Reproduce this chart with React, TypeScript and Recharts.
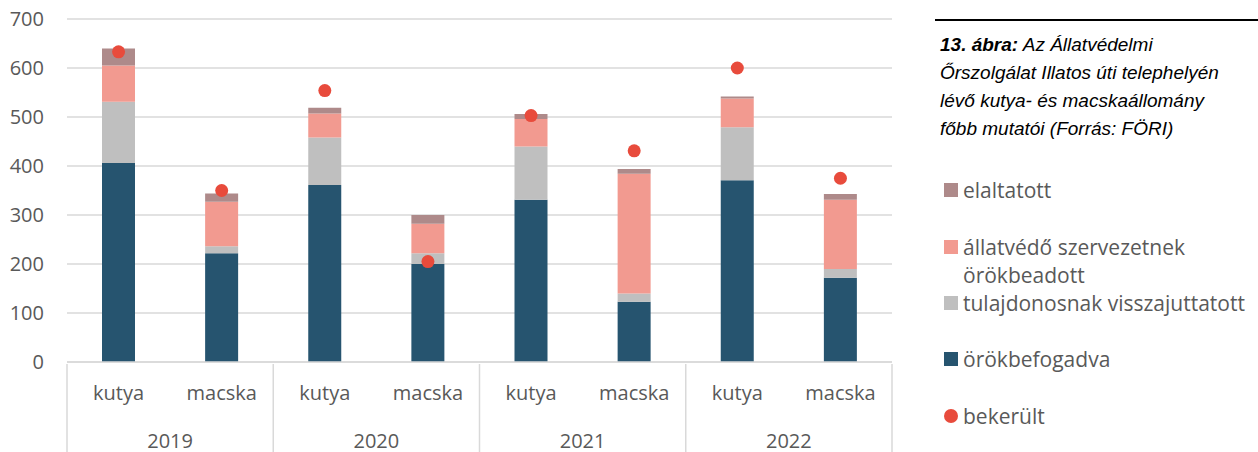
import React from 'react';
import { ComposedChart, Bar, Line, XAxis, YAxis, CartesianGrid } from 'recharts';

// Categories and values
const years = ['2019', '2019', '2020', '2020', '2021', '2021', '2022', '2022'];
const animals = ['kutya', 'macska', 'kutya', 'macska', 'kutya', 'macska', 'kutya', 'macska'];
const orokbefogadva = [406, 222, 361, 200, 331, 123, 371, 172];
const tulajdonosnak = [125, 14, 97, 22, 109, 17, 108, 18];
const allatvedo = [74, 91, 49, 60, 56, 244, 59, 141];
const elaltatott = [35, 17, 12, 18, 10, 10, 4, 12];
const bekerult = [633, 350, 554, 205, 503, 431, 600, 375];
const yTicks = [0, 100, 200, 300, 400, 500, 600, 700];

const data = animals.map((animal, i) => ({
  key: `${years[i]}-${animal}`,
  animal,
  year: years[i],
  orokbefogadva: orokbefogadva[i],
  tulajdonosnak: tulajdonosnak[i],
  allatvedo: allatvedo[i],
  elaltatott: elaltatott[i],
  bekerult: bekerult[i],
}));

const COLORS = {
  orokbefogadva: '#26546F',
  tulajdonosnak: '#BFBFBF',
  allatvedo: '#F29A90',
  elaltatott: '#AE8A8A',
  bekerult: '#E84B3C',
};

const FONT = '"Open Sans", sans-serif';
const TEXT = '#595959';
const GRID = '#D9D9D9';

const CHART_W = 900;
const CHART_H = 452;
const PLOT_LEFT = 67;
const PLOT_RIGHT = 892;
const BAND = (PLOT_RIGHT - PLOT_LEFT) / data.length;

const CategoryTick = (props: any) => {
  const { x, y, index } = props;
  const item = data[index];
  const half = BAND / 2;
  return (
    <g>
      <text x={x} y={y + 36} textAnchor="middle" fill={TEXT} fontSize={20} fontFamily={FONT}>
        {item.animal}
      </text>
      {index % 2 === 0 && (
        <>
          <line x1={x - half} x2={x - half} y1={y} y2={CHART_H} stroke={GRID} strokeWidth={1.5} />
          <text x={x + half} y={y + 84} textAnchor="middle" fill={TEXT} fontSize={20} fontFamily={FONT}>
            {item.year}
          </text>
        </>
      )}
      {index === data.length - 1 && (
        <line x1={x + half} x2={x + half} y1={y} y2={CHART_H} stroke={GRID} strokeWidth={1.5} />
      )}
    </g>
  );
};

const legendItems = [
  { label: 'elaltatott', color: COLORS.elaltatott, y: 190 },
  { label: 'állatvédő szervezetnek', label2: 'örökbeadott', color: COLORS.allatvedo, y: 247 },
  { label: 'tulajdonosnak visszajuttatott', color: COLORS.tulajdonosnak, y: 303 },
  { label: 'örökbefogadva', color: COLORS.orokbefogadva, y: 359 },
  { label: 'bekerült', color: COLORS.bekerult, y: 416, dot: true },
];

const SidePanel = () => (
  <div style={{ position: 'absolute', left: 0, top: 0, width: 1258, height: 452, pointerEvents: 'none' }}>
    <div style={{ position: 'absolute', left: 935, top: 19, width: 323, height: 2, background: '#000' }} />
    <div
      style={{
        position: 'absolute',
        left: 940,
        top: 31,
        width: 318,
        fontFamily: '"Liberation Sans", Arial, sans-serif',
        fontStyle: 'italic',
        fontSize: 19,
        lineHeight: '28px',
        color: '#000',
        whiteSpace: 'nowrap',
      }}
    >
      <b>13. ábra:</b> Az Állatvédelmi
      <br />
      Őrszolgálat Illatos úti telephelyén
      <br />
      lévő kutya- és macskaállomány
      <br />
      főbb mutatói (Forrás: FÖRI)
    </div>
    {legendItems.map((it) => (
      <div key={it.label} style={{ position: 'absolute', left: 944, top: it.y - 14, fontFamily: FONT, fontSize: 21, color: TEXT }}>
        <div
          style={{
            position: 'absolute',
            left: 0,
            top: 7,
            width: 14,
            height: 14,
            background: it.color,
            borderRadius: it.dot ? 7 : 0,
          }}
        />
        <div style={{ position: 'absolute', left: 19, top: 0, whiteSpace: 'nowrap', lineHeight: '28px' }}>
          {it.label}
          {it.label2 && (
            <>
              <br />
              {it.label2}
            </>
          )}
        </div>
      </div>
    ))}
  </div>
);

export default function App() {
  return (
    <div style={{ position: 'absolute', left: 0, top: 0, width: 1258, height: 452, background: '#fff' }}>
      <ComposedChart
        width={CHART_W}
        height={CHART_H}
        data={data}
        margin={{ top: 19, right: CHART_W - PLOT_RIGHT, bottom: 0, left: 0 }}
        barCategoryGap={0}
      >
        <CartesianGrid vertical={false} stroke={GRID} strokeWidth={1.5} />
        <XAxis
          dataKey="key"
          height={90}
          interval={0}
          tickLine={false}
          tickSize={0}
          axisLine={{ stroke: GRID, strokeWidth: 1.5 }}
          tick={<CategoryTick />}
        />
        <YAxis
          width={PLOT_LEFT}
          domain={[0, 700]}
          ticks={yTicks}
          axisLine={false}
          tickLine={false}
          tickSize={0}
          tickMargin={23}
          tick={{ fill: TEXT, fontSize: 20, fontFamily: FONT }}
        />
        <Bar dataKey="orokbefogadva" stackId="a" fill={COLORS.orokbefogadva} barSize={33} isAnimationActive={false} />
        <Bar dataKey="tulajdonosnak" stackId="a" fill={COLORS.tulajdonosnak} barSize={33} isAnimationActive={false} />
        <Bar dataKey="allatvedo" stackId="a" fill={COLORS.allatvedo} barSize={33} isAnimationActive={false} />
        <Bar dataKey="elaltatott" stackId="a" fill={COLORS.elaltatott} barSize={33} isAnimationActive={false} />
        <Line
          dataKey="bekerult"
          stroke="none"
          dot={{ r: 6.5, fill: COLORS.bekerult, stroke: 'none' }}
          activeDot={false}
          isAnimationActive={false}
        />
      </ComposedChart>
      <SidePanel />
    </div>
  );
}
